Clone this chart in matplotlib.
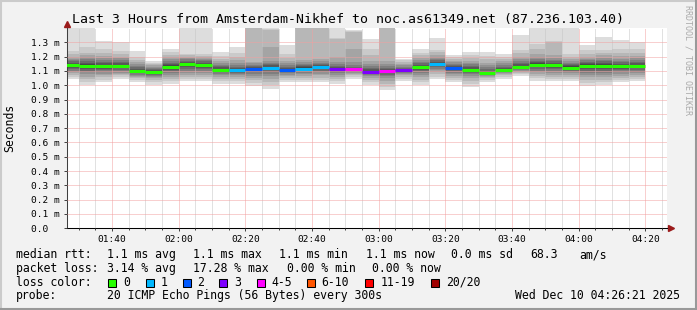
import numpy as np
import pandas as pd
import matplotlib
matplotlib.use("Agg")
from matplotlib import pyplot as plt
import matplotlib.dates as mdates
from matplotlib.patches import Rectangle
from matplotlib.lines import Line2D

W, H = 697, 310
MONO = "DejaVu Sans Mono"

title = "Last 3 Hours from Amsterdam-Nikhef to noc.as61349.net (87.236.103.40)"

# 5 minute steps, the first one only partly on screen
step_start = "2025-12-10 01:25"
view_start = "2025-12-10 01:26:21"
view_end = "2025-12-10 04:26:21"

# median rtt per step (ms)
median_ms = [1.142, 1.132, 1.132, 1.132, 1.100, 1.095, 1.129, 1.149, 1.140, 1.108,
             1.103, 1.110, 1.120, 1.104, 1.116, 1.125, 1.110, 1.110, 1.095, 1.097,
             1.104, 1.125, 1.149, 1.123, 1.108, 1.087, 1.106, 1.129, 1.144, 1.139,
             1.123, 1.134, 1.137, 1.132, 1.134]
# lost pings (out of 20) per step
loss = [0, 0, 0, 0, 0, 0, 0, 0, 0, 0,
        1, 2, 1, 2, 1, 1, 3, 4, 3, 4,
        3, 0, 1, 2, 0, 0, 0, 0, 0, 0,
        0, 0, 0, 0, 0]
# the 20 sorted ping times per step (microseconds)
pings_us = [
    [1045, 1060, 1072, 1082, 1092, 1102, 1112, 1122, 1130, 1137, 1143, 1150, 1158, 1166, 1175, 1185, 1198, 1215, 1240, 1480],
    [1000, 1023, 1045, 1058, 1075, 1090, 1100, 1112, 1122, 1130, 1136, 1145, 1155, 1168, 1180, 1195, 1210, 1225, 1270, 1500],
    [1023, 1040, 1055, 1068, 1080, 1092, 1104, 1115, 1124, 1130, 1134, 1142, 1152, 1163, 1175, 1190, 1205, 1225, 1250, 1310],
    [1045, 1058, 1068, 1078, 1088, 1098, 1108, 1117, 1125, 1130, 1134, 1142, 1152, 1162, 1174, 1188, 1200, 1215, 1240, 1300],
    [1023, 1035, 1048, 1058, 1066, 1074, 1082, 1090, 1095, 1098, 1102, 1108, 1116, 1125, 1135, 1148, 1160, 1175, 1195, 1240],
    [1000, 1020, 1035, 1048, 1058, 1066, 1074, 1082, 1088, 1093, 1097, 1102, 1108, 1115, 1122, 1130, 1138, 1148, 1158, 1170],
    [1010, 1028, 1045, 1060, 1072, 1084, 1096, 1108, 1118, 1126, 1132, 1140, 1148, 1158, 1168, 1180, 1195, 1210, 1230, 1250],
    [1030, 1045, 1060, 1074, 1088, 1100, 1112, 1124, 1136, 1146, 1152, 1158, 1165, 1172, 1180, 1190, 1200, 1210, 1220, 1500],
    [1030, 1045, 1060, 1074, 1088, 1100, 1112, 1122, 1131, 1137, 1143, 1150, 1158, 1166, 1175, 1185, 1195, 1205, 1220, 1480],
    [1010, 1028, 1045, 1058, 1070, 1080, 1090, 1098, 1104, 1106, 1110, 1116, 1124, 1132, 1142, 1155, 1168, 1185, 1205, 1235],
    [1010, 1030, 1045, 1058, 1070, 1080, 1088, 1095, 1100, 1102, 1105, 1112, 1120, 1130, 1142, 1158, 1175, 1195, 1225, 1270],
    [995, 1015, 1035, 1050, 1065, 1078, 1090, 1100, 1106, 1109, 1113, 1118, 1125, 1133, 1142, 1152, 1165, 1450, 1500, 1550],
    [975, 1000, 1025, 1045, 1062, 1078, 1092, 1104, 1112, 1117, 1123, 1130, 1138, 1148, 1158, 1170, 1270, 1385, 1390, 1500],
    [1020, 1035, 1050, 1062, 1073, 1082, 1090, 1096, 1100, 1102, 1106, 1112, 1120, 1130, 1142, 1155, 1170, 1190, 1220, 1280],
    [1020, 1035, 1050, 1064, 1076, 1088, 1098, 1106, 1111, 1114, 1118, 1124, 1132, 1140, 1150, 1160, 1175, 1450, 1500, 1550],
    [1020, 1038, 1054, 1068, 1080, 1092, 1102, 1112, 1119, 1123, 1127, 1133, 1140, 1148, 1158, 1170, 1185, 1440, 1480, 1550],
    [1010, 1028, 1045, 1060, 1073, 1084, 1094, 1102, 1107, 1109, 1112, 1118, 1126, 1135, 1146, 1160, 1200, 1320, 1330, 1500],
    [1045, 1058, 1070, 1080, 1088, 1095, 1100, 1105, 1108, 1109, 1111, 1115, 1122, 1130, 1140, 1160, 1250, 1375, 1380, 1385],
    [1000, 1020, 1038, 1052, 1064, 1074, 1082, 1088, 1092, 1094, 1097, 1102, 1110, 1120, 1132, 1148, 1170, 1210, 1255, 1320],
    [969, 990, 1010, 1030, 1048, 1062, 1074, 1084, 1091, 1095, 1099, 1104, 1112, 1122, 1135, 1150, 1170, 1440, 1490, 1550],
    [1030, 1045, 1058, 1070, 1080, 1088, 1094, 1098, 1101, 1103, 1105, 1109, 1115, 1122, 1130, 1140, 1150, 1162, 1175, 1185],
    [1000, 1020, 1038, 1055, 1070, 1084, 1096, 1108, 1117, 1122, 1128, 1134, 1142, 1152, 1163, 1176, 1190, 1208, 1228, 1250],
    [1045, 1060, 1075, 1090, 1103, 1115, 1126, 1136, 1143, 1147, 1151, 1157, 1165, 1174, 1185, 1198, 1212, 1230, 1245, 1330],
    [1020, 1035, 1050, 1064, 1076, 1088, 1099, 1108, 1116, 1121, 1125, 1130, 1136, 1143, 1150, 1160, 1170, 1182, 1195, 1210],
    [990, 1010, 1030, 1048, 1062, 1075, 1086, 1095, 1102, 1106, 1110, 1116, 1124, 1134, 1145, 1158, 1172, 1190, 1210, 1235],
    [1020, 1035, 1048, 1058, 1066, 1073, 1078, 1082, 1085, 1086, 1088, 1094, 1102, 1112, 1124, 1140, 1158, 1180, 1205, 1235],
    [1045, 1057, 1068, 1077, 1085, 1092, 1097, 1101, 1104, 1105, 1107, 1112, 1120, 1130, 1142, 1155, 1170, 1185, 1200, 1215],
    [1065, 1075, 1084, 1092, 1100, 1108, 1115, 1121, 1125, 1127, 1131, 1137, 1145, 1155, 1166, 1180, 1200, 1225, 1245, 1350],
    [1032, 1048, 1062, 1076, 1090, 1102, 1114, 1126, 1136, 1141, 1147, 1154, 1162, 1172, 1185, 1200, 1220, 1250, 1290, 1500],
    [1030, 1046, 1060, 1074, 1088, 1100, 1112, 1123, 1132, 1137, 1141, 1148, 1156, 1166, 1178, 1192, 1210, 1300, 1310, 1500],
    [1030, 1045, 1058, 1070, 1082, 1092, 1102, 1110, 1117, 1121, 1125, 1131, 1138, 1146, 1155, 1166, 1180, 1200, 1220, 1480],
    [995, 1015, 1035, 1055, 1070, 1085, 1098, 1110, 1122, 1130, 1138, 1145, 1153, 1162, 1173, 1186, 1200, 1220, 1245, 1280],
    [1000, 1020, 1040, 1058, 1074, 1088, 1100, 1112, 1124, 1133, 1141, 1148, 1156, 1166, 1178, 1192, 1208, 1228, 1248, 1340],
    [1020, 1035, 1050, 1064, 1078, 1092, 1104, 1115, 1124, 1129, 1135, 1142, 1150, 1160, 1172, 1186, 1202, 1222, 1250, 1315],
    [1030, 1045, 1058, 1070, 1082, 1094, 1106, 1118, 1126, 1131, 1137, 1144, 1152, 1162, 1174, 1188, 1205, 1225, 1250, 1305],
]

loss_labels = ["0", "1", "2", "3", "4-5", "6-10", "11-19", "20/20"]
loss_colors = ["#26ff00", "#00b8ff", "#0059ff", "#7e00ff", "#ff00ff", "#ff5500", "#ff0000", "#a00000"]
# outermost band first
smoke_colors = ["#dddddd", "#cacaca", "#b7b7b7", "#a4a4a4", "#919191",
                "#7e7e7e", "#6b6b6b", "#585858", "#454545", "#323232"]

stats_rtt = ["1.1 ms avg", "1.1 ms max", "1.1 ms min", "1.1 ms now", "0.0 ms sd", "68.3", "am/s"]
stats_loss = ["3.14 % avg", "17.28 % max", "0.00 % min", "0.00 % now"]
probe = "20 ICMP Echo Pings (56 Bytes) every 300s"
stamp = "Wed Dec 10 04:26:21 2025"


def fx(px):
    return px / W


def fy(py):
    return 1 - py / H


def loss_color(n):
    if n <= 3:
        return loss_colors[n]
    if n <= 5:
        return loss_colors[4]
    if n <= 10:
        return loss_colors[5]
    if n <= 19:
        return loss_colors[6]
    return loss_colors[7]


fig = plt.figure(figsize=(W / 100, H / 100), dpi=100, facecolor="#f2f2f2")
ax = fig.add_axes([fx(66.5), fy(228.3), 600 / W, 200.3 / H])
ax.set_facecolor("white")

edges = pd.date_range(step_start, periods=len(median_ms) + 1, freq="5min")
x = mdates.date2num(edges.to_pydatetime())

p = np.sort(np.array(pings_us) / 1000.0, axis=1)
for i in range(10):
    lo = np.append(p[:, i], p[-1, i])
    hi = np.append(p[:, 19 - i], p[-1, 19 - i])
    ax.fill_between(x, lo, hi, step="post", color=smoke_colors[i], lw=0, antialiased=False)

ax.hlines(median_ms, x[:-1], x[1:], colors=[loss_color(n) for n in loss], lw=2.2, capstyle="butt", zorder=3)

ax.set_xlim(mdates.date2num(pd.Timestamp(view_start)), mdates.date2num(pd.Timestamp(view_end)))
ax.set_ylim(0, 1.40)

yt = np.arange(0, 14) / 10
ax.set_yticks(yt)
ax.set_yticklabels(["0.0  "] + ["%.1f m" % v for v in yt[1:]], family=MONO, fontsize=6.8)
ax.xaxis.set_major_locator(mdates.MinuteLocator(byminute=[0, 20, 40]))
ax.xaxis.set_minor_locator(mdates.MinuteLocator(byminute=range(0, 60, 5)))
ax.xaxis.set_major_formatter(mdates.DateFormatter("%H:%M"))
for lab in ax.get_xticklabels():
    lab.set_family(MONO)
    lab.set_fontsize(6.8)
ax.tick_params(axis="both", which="major", length=2.2, width=0.7, color="#404040", pad=2.8)
ax.tick_params(axis="x", which="minor", length=1.5, width=0.7, color="#404040")

ax.set_axisbelow(False)
dot = (0, (1, 1))
ax.grid(which="minor", axis="x", color="#c4c4c4", ls=dot, lw=0.72)
ax.grid(which="major", axis="x", color="#f2a0a0", ls=dot, lw=0.72)
ax.grid(which="major", axis="y", color="#f2a0a0", ls=dot, lw=0.72)

for s in ["top", "right"]:
    ax.spines[s].set_visible(False)
ax.spines["left"].set_color("#404040")
ax.spines["bottom"].set_color("#000000")
ax.spines["left"].set_linewidth(0.75)
ax.spines["bottom"].set_linewidth(0.75)
ax.plot([0], [1.02], marker="^", ms=4.5, color="#9b1b1b", transform=ax.transAxes, clip_on=False)
ax.plot([1.008], [0.0], marker=">", ms=4.5, color="#9b1b1b", transform=ax.transAxes, clip_on=False)

# frame
fig.add_artist(Line2D([0, 1], [fy(0.8)] * 2, color="#cbcbcb", lw=1.5, transform=fig.transFigure))
fig.add_artist(Line2D([fx(0.8)] * 2, [0, 1], color="#cbcbcb", lw=1.5, transform=fig.transFigure))
fig.add_artist(Line2D([0, 1], [fy(309)] * 2, color="#999999", lw=1.5, transform=fig.transFigure))
fig.add_artist(Line2D([fx(696)] * 2, [0, 1], color="#999999", lw=1.5, transform=fig.transFigure))

fig.text(0.5, fy(23.3), title, ha="center", va="baseline", family=MONO, fontsize=9.5)
fig.text(fx(10), fy(128), "Seconds", rotation=90, ha="center", va="center", family=MONO, fontsize=8.3)
fig.text(fx(688), fy(5), "RRDTOOL / TOBI OETIKER", rotation=270, ha="center", va="top",
         family=MONO, fontsize=6.0, color="#aaaaaa")

fs = 8.3
rows = [258, 272, 285.7, 299.3]
fig.text(fx(16), fy(rows[0]), "median rtt:", family=MONO, fontsize=fs, va="baseline")
for xp, t in zip([107.3, 193.3, 279.3, 365.7, 451, 530, 579.3], stats_rtt):
    fig.text(fx(xp), fy(rows[0]), t, family=MONO, fontsize=fs, va="baseline")
fig.text(fx(16), fy(rows[1]), "packet loss:", family=MONO, fontsize=fs, va="baseline")
for xp, t in zip([107.3, 193.3, 286.7, 372.3], stats_loss):
    fig.text(fx(xp), fy(rows[1]), t, family=MONO, fontsize=fs, va="baseline")
fig.text(fx(16), fy(rows[2]), "loss color:", family=MONO, fontsize=fs, va="baseline")
box_x = [108.3, 145.7, 182.7, 219.3, 256.7, 307.3, 365, 430.7]
lab_x = [123.3, 160.7, 197.3, 234.3, 271, 321.7, 380.7, 446]
for bx, lx, lab, c in zip(box_x, lab_x, loss_labels, loss_colors):
    fig.add_artist(Rectangle((fx(bx), fy(286.7)), 8 / W, 8 / H, facecolor=c, edgecolor="black",
                             lw=0.75, transform=fig.transFigure))
    fig.text(fx(lx), fy(rows[2]), lab, family=MONO, fontsize=fs, va="baseline")
fig.text(fx(16), fy(rows[3]), "probe:", family=MONO, fontsize=fs, va="baseline")
fig.text(fx(107.3), fy(rows[3]), probe, family=MONO, fontsize=fs, va="baseline")
fig.text(fx(680), fy(rows[3]), stamp, family=MONO, fontsize=fs, va="baseline", ha="right")

fig.savefig("out.png", dpi=100, facecolor=fig.get_facecolor())
